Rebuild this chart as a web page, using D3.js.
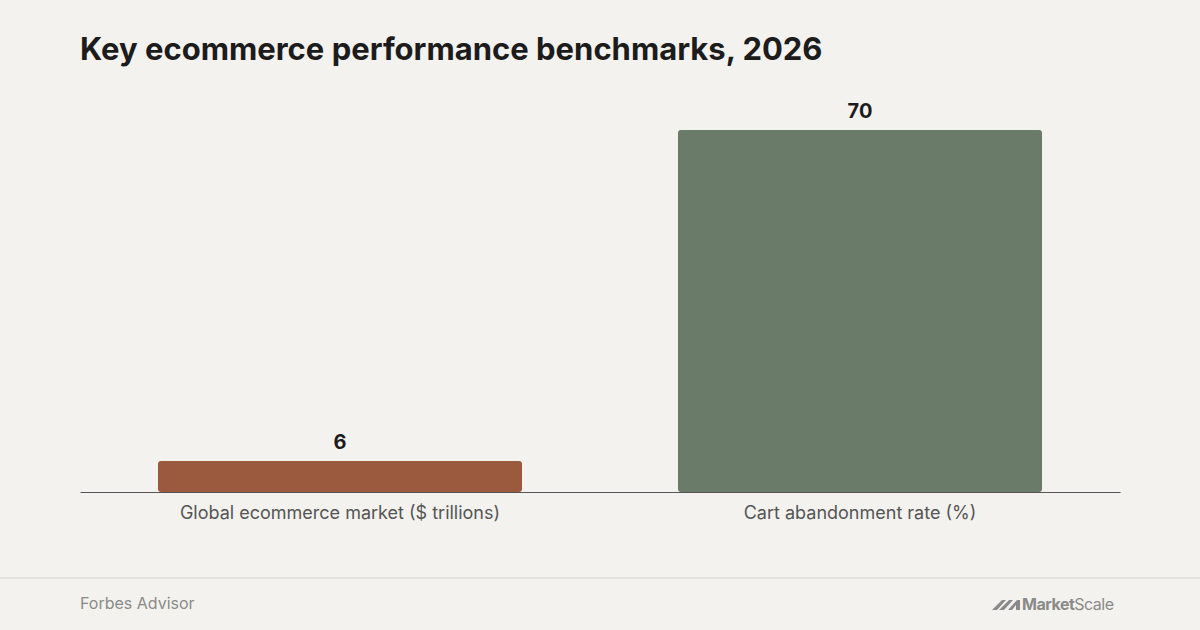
<!DOCTYPE html>
<html>
<head>
<meta charset="utf-8">
<script src="https://cdn.jsdelivr.net/npm/d3@7.9.0/dist/d3.min.js"></script>
<style>
  body { margin: 0; background: #f4f2ee; }
  text { font-family: Inter, "Noto Sans", sans-serif; }
</style>
</head>
<body>
<script>
// chart data
const categories = ["Global ecommerce market ($ trillions)", "Cart abandonment rate (%)"];
const values = [6, 70];
const colors = ["#9b5a3e", "#6a7b69"];

const W = 1200, H = 630;
const margin = { left: 80, right: 80, top: 130, bottom: 138 };
const baseY = H - margin.bottom;

const svg = d3.select("body").append("svg")
    .attr("width", W)
    .attr("height", H);

svg.append("rect").attr("width", W).attr("height", H).attr("fill", "#f4f2ee");

// title
svg.append("text")
    .attr("x", 80).attr("y", 60)
    .attr("font-size", 31).attr("font-weight", 700)
    .attr("fill", "#1c1c1c")
    .text("Key ecommerce performance benchmarks, 2026");

const x = d3.scaleBand()
    .domain(categories)
    .range([margin.left, W - margin.right])
    .paddingInner(0.3)
    .paddingOuter(0.15);

const y = d3.scaleLinear()
    .domain([0, 70])
    .range([baseY, margin.top]);

// bars
svg.selectAll(".bar")
    .data(categories)
    .enter().append("rect")
    .attr("class", "bar")
    .attr("x", d => x(d))
    .attr("y", (d, i) => y(values[i]))
    .attr("width", x.bandwidth())
    .attr("height", (d, i) => baseY - y(values[i]))
    .attr("rx", 3)
    .attr("fill", (d, i) => colors[i]);

// value labels
svg.selectAll(".val")
    .data(categories)
    .enter().append("text")
    .attr("x", d => x(d) + x.bandwidth() / 2)
    .attr("y", (d, i) => y(values[i]) - 12)
    .attr("text-anchor", "middle")
    .attr("font-size", 20).attr("font-weight", 700)
    .attr("fill", "#1c1c1c")
    .text((d, i) => values[i]);

// x axis
const axis = svg.append("g")
    .attr("transform", `translate(0,${baseY})`)
    .call(d3.axisBottom(x).tickSize(0).tickPadding(14));
axis.select(".domain").attr("stroke", "#555").attr("stroke-width", 1.2);
axis.selectAll("text")
    .attr("font-size", 18)
    .attr("fill", "#555")
    .style("font-family", "Inter, 'Noto Sans', sans-serif");

// footer
svg.append("line")
    .attr("x1", 0).attr("x2", W)
    .attr("y1", 578).attr("y2", 578)
    .attr("stroke", "#e2dfda").attr("stroke-width", 1.5);

svg.append("text")
    .attr("x", 80).attr("y", 609)
    .attr("font-size", 16).attr("fill", "#8a8a8a")
    .text("Forbes Advisor");

const logo = svg.append("g").attr("transform", "translate(992,596)");
logo.append("path")
    .attr("d", "M0,14 L10,4 L14,4 L5,14 Z M7,14 L17,4 L21,4 L12,14 Z M16,14 L25,4 L28,4 L28,14 L24,14 L24,9 L20,14 Z")
    .attr("fill", "#8a8a8a");
logo.append("text")
    .attr("x", 30).attr("y", 14)
    .attr("font-size", 16).attr("fill", "#8a8a8a")
    .attr("letter-spacing", -0.5)
    .html('<tspan font-weight="700">Market</tspan><tspan>Scale</tspan>');
</script>
</body>
</html>
